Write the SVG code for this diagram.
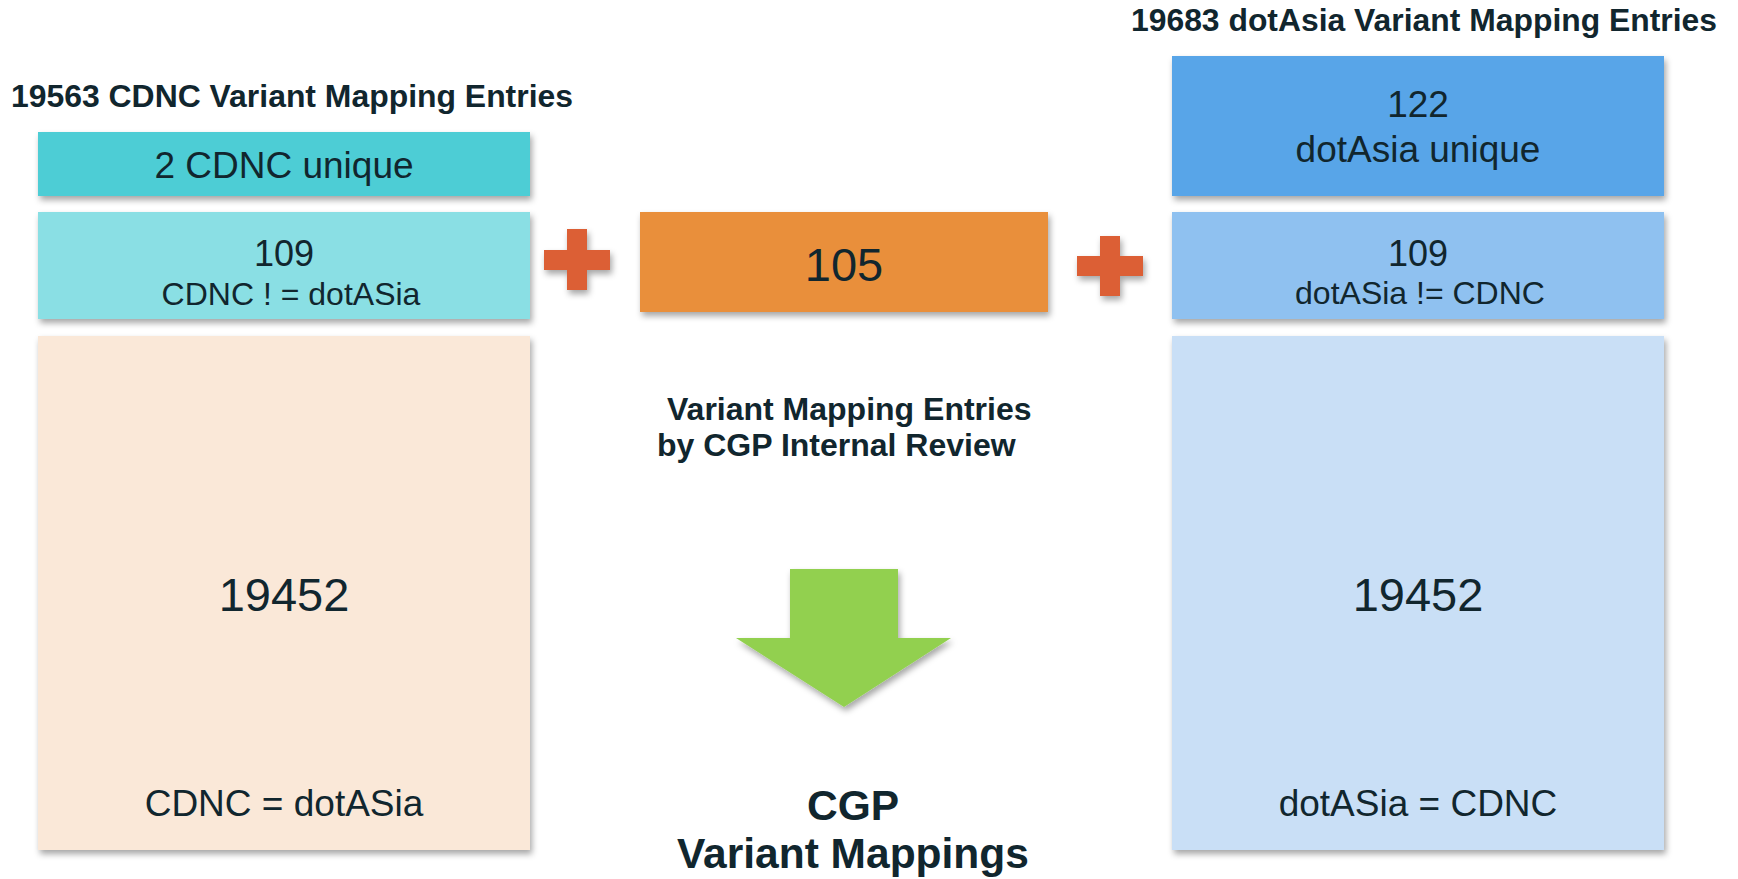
<svg xmlns="http://www.w3.org/2000/svg" width="1738" height="879" viewBox="0 0 1738 879">
<style>
text{font-family:"Liberation Sans",Arial,sans-serif;fill:#11262E}
.b{font-weight:bold}
.c{text-anchor:middle}
</style>
<defs>
<filter id="sh" x="-10%" y="-10%" width="125%" height="130%">
<feDropShadow dx="2" dy="4" stdDeviation="3" flood-color="#000" flood-opacity="0.35"/>
</filter>
</defs>
<rect width="1738" height="879" fill="#fff"/>
<g id="title-left"><text class="b" x="11" y="107" font-size="32" textLength="562" lengthAdjust="spacingAndGlyphs">19563 CDNC Variant Mapping Entries</text></g>
<g id="title-right"><text class="b" x="1131" y="31" font-size="32" textLength="586" lengthAdjust="spacingAndGlyphs">19683 dotAsia Variant Mapping Entries</text></g>
<g id="cdnc-unique"><rect x="38" y="132" width="492" height="64" fill="#4ECDD5" filter="url(#sh)"/><text class="c" x="284" y="178" font-size="37">2 CDNC unique</text></g>
<g id="cdnc-diff"><rect x="38" y="212" width="492" height="107" fill="#8ADFE4" filter="url(#sh)"/><text class="c" x="284" y="266" font-size="36">109</text><text class="c" x="291" y="305" font-size="32">CDNC ! = dotASia</text></g>
<g id="cdnc-same"><rect x="38" y="336" width="492" height="514" fill="#FAE8D8" filter="url(#sh)"/><text class="c" x="284" y="611" font-size="47">19452</text><text class="c" x="284" y="816" font-size="37">CDNC = dotASia</text></g>
<g id="cgp-review"><rect x="640" y="212" width="408" height="100" fill="#E98F3A" filter="url(#sh)"/><text class="c" x="844" y="281" font-size="47">105</text></g>
<g id="dotasia-unique"><rect x="1172" y="56" width="492" height="140" fill="#58A5E8" filter="url(#sh)"/><text class="c" x="1418" y="117" font-size="37">122</text><text class="c" x="1418" y="162" font-size="37">dotAsia unique</text></g>
<g id="dotasia-diff"><rect x="1172" y="212" width="492" height="107" fill="#8FC1F0" filter="url(#sh)"/><text class="c" x="1418" y="266" font-size="36">109</text><text class="c" x="1420" y="304" font-size="32">dotASia != CDNC</text></g>
<g id="dotasia-same"><rect x="1172" y="336" width="492" height="514" fill="#C9DFF6" filter="url(#sh)"/><text class="c" x="1418" y="611" font-size="47">19452</text><text class="c" x="1418" y="816" font-size="37">dotASia = CDNC</text></g>
<g id="plus-left"><path d="M567 229h20v21h23v20h-23v20h-20v-20h-23v-20h23z" fill="#DC5F35" filter="url(#sh)"/></g>
<g id="plus-right"><path d="M1100 236h20v20h23v20h-23v20h-20v-20h-23v-20h23z" fill="#DC5F35" filter="url(#sh)"/></g>
<g id="review-label"><text class="b" x="667" y="420" font-size="32">Variant Mapping Entries</text><text class="b" x="657" y="456" font-size="32">by CGP Internal Review</text></g>
<g id="connectors"><path d="M790 569h108v69h53l-107 69l-108-69h54z" fill="#92D050" filter="url(#sh)"/></g>
<g id="result"><text class="b c" x="853" y="820" font-size="42.5">CGP</text><text class="b c" x="853" y="868" font-size="42.5">Variant Mappings</text></g>
</svg>
